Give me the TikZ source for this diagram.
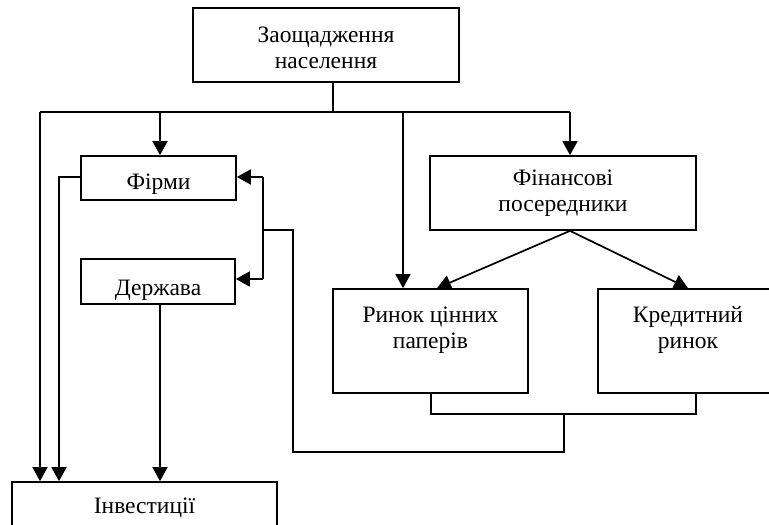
\documentclass[tikz,border=0pt]{standalone}
\usepackage{fontspec}
\setmainfont{Liberation Serif}
\usetikzlibrary{arrows.meta}
\begin{document}
\begin{tikzpicture}[x=1pt,y=-1pt,
  line width=1.7pt,
  boxnode/.style={draw,line width=1.7pt,inner sep=0pt,minimum width=#1},
  txt/.style={font=\fontsize{23.5}{26}\selectfont,align=center,inner sep=0pt},
  arr/.style={-{Triangle[length=14pt,width=15pt]}},
  line join=miter]
\useasboundingbox (0,0) rectangle (769,525);
\begin{scope}
\clip (0,0) rectangle (769,525);
% boxes
\node[boxnode=266pt,minimum height=74pt] (top) at (326,45) {};
\node[txt] (toptxt) at (326,48) {Заощадження\\населення};
\node[boxnode=155pt,minimum height=44pt] (firm) at (158.5,178) {};
\node[txt] (firmtxt) at (158.5,184) {Фірми};
\node[boxnode=154pt,minimum height=45pt] (derzh) at (158,281.5) {};
\node[txt] (derzhtxt) at (158,290) {Держава};
\node[boxnode=266pt,minimum height=74pt] (fin) at (563,193) {};
\node[txt] (fintxt) at (563,193) {Фінансові\\посередники};
\node[boxnode=195pt,minimum height=104pt] (rcp) at (430.5,341) {};
\node[txt] (rcptxt) at (430.5,330) {Ринок цінних\\паперів};
\node[boxnode=180pt,minimum height=104pt] (kred) at (688,341) {};
\node[txt] (kredtxt) at (688,330) {Кредитний\\ринок};
\node[boxnode=265pt,minimum height=74pt] (inv) at (144.5,519) {};
\node[txt] (invtxt) at (144.5,508) {Інвестиції};
\end{scope}
% bus
\coordinate (busL) at (40,112);
\coordinate (busR) at (570,112);
\draw (top.south -| 333,0) -- (333,112);
\draw (busL) -- (busR);
\draw[arr] (160,112) -- (firm.north -| 160,0);
\draw[arr] (busR) -- (fin.north -| busR);
\draw[arr] (403,112) -- (rcp.north -| 403,0);
\draw[arr] (busL) -- (inv.north -| busL);
% firms and state to investment
\draw[arr] (firm.west |- 0,177) -- (59,177) -- (inv.north -| 59,0);
\draw[arr] (derzh.south -| 160,0) -- (inv.north -| 160,0);
% financial intermediaries
\draw[arr] (fin.south -| 570,0) -- (rcp.north -| 437,0);
\draw[arr] (fin.south -| 570,0) -- (kred.north -| 688,0);
% markets back to firms and state
\draw (rcp.south -| 431,0) -- (431,414) -- (696,414) -- (kred.south -| 696,0);
\draw (564,414) -- (564,452) -- (293,452) -- (293,230) -- (263,230);
\draw[arr] (263,177) -- (firm.east |- 0,177);
\draw (263,177) -- (263,279);
\draw[arr] (263,279) -- (derzh.east |- 0,279);
\end{tikzpicture}
\end{document}
